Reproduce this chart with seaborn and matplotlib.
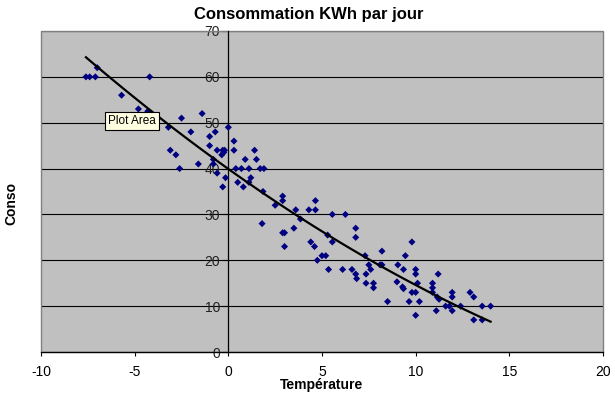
import numpy as np
import pandas as pd
import matplotlib
matplotlib.use("Agg")
import matplotlib.pyplot as plt
import seaborn as sns
from matplotlib.patches import Rectangle

# ---- data ----
temperature = [
    -7.6, -7.4, -7.1, -7.0, -4.2, -5.7, -4.8, -4.3, -3.2, -2.5, -3.1, -2.8, -2.6,
    -1.4, -2.0, -1.6, -1.0, -0.7, -1.0, -0.6, -0.3, -0.2, -0.35, -0.25, 0.0, -0.8, -0.8,
    -0.6, -0.3, -0.15,
    0.3, 0.3, 0.4, 0.7, 0.5, 0.8, 0.9, 1.1, 1.2, 1.1, 1.4, 1.5, 1.7, 1.9, 1.85, 1.8, 2.5,
    2.9, 2.9, 3.6, 3.85, 4.3, 4.65, 4.65, 5.55, 6.25, 2.9, 3.0, 3.0, 3.5, 4.4, 4.6, 4.75,
    5.0, 5.2, 5.3, 5.55, 5.35, 6.1, 6.6, 6.8, 6.8, 6.8, 6.85, 7.3, 7.5, 7.6, 7.35, 7.35,
    7.75, 7.75,
    8.2, 8.1, 8.2, 8.5, 9.05, 9.35, 9.45, 9.8, 9.0, 9.3, 9.35, 9.65, 10.0, 10.0, 10.1,
    9.8, 10.0, 10.0, 10.2, 11.2, 10.9, 10.9, 10.9, 11.15, 11.25, 11.1, 11.6, 11.8, 11.95,
    11.95, 11.95, 12.4, 12.9, 13.1, 13.1, 13.55, 14.0, 13.55,
]
conso = [
    60, 60, 60, 62, 60, 56, 53, 52.5, 49, 51, 44, 43, 40,
    52, 48, 41, 47, 48, 45, 44, 44, 44, 43, 43.5, 49, 42, 41,
    39, 36, 38,
    46, 44, 40, 40, 37, 36, 42, 40, 38, 37, 44, 42, 40, 40, 35, 28, 32,
    34, 33, 31, 29, 31, 33, 31, 30, 30, 26, 26, 23, 27, 24, 23, 20,
    21, 21, 25.5, 24, 18, 18, 18, 27, 25, 17, 16, 21, 19, 18, 17, 15,
    15, 14,
    22, 19, 19, 11, 19, 18, 21, 24, 15.3, 14.2, 13.8, 11, 18, 17, 15,
    13, 13, 8, 11, 17, 15, 14, 13, 12, 11.5, 9, 10, 10, 13,
    12, 9, 10, 13, 12, 7, 10, 10, 7,
]
x_ticks = [-10, -5, 0, 5, 10, 15, 20]
y_ticks = [0, 10, 20, 30, 40, 50, 60, 70]
title = "Consommation KWh par jour"
x_label = "Température"
y_label = "Conso"
tooltip = "Plot Area"

df = pd.DataFrame({x_label: temperature, y_label: conso})

plt.rcParams["font.family"] = ["Liberation Sans", "DejaVu Sans"]

W, H = 615, 398
fig = plt.figure(figsize=(W / 100, H / 100), dpi=100)
fig.patch.set_facecolor("white")
L, R, T, B = 41, 603, 31, 352
ax = fig.add_axes([L / W, 1 - B / H, (R - L) / W, (B - T) / H])
ax.set_facecolor("#C0C0C0")

sns.scatterplot(data=df, x=x_label, y=y_label, marker="D", s=13,
                color="#000080", edgecolor="none", linewidth=0, ax=ax, zorder=3)
sns.regplot(data=df, x=x_label, y=y_label, order=2, ci=None, scatter=False,
            ax=ax, line_kws=dict(color="black", lw=1.6, zorder=4))

ax.set_xlim(x_ticks[0], x_ticks[-1])
ax.set_ylim(y_ticks[0], y_ticks[-1])
ax.set_xticks(x_ticks)
ax.set_yticks(y_ticks)
ax.set_xticklabels([str(v) for v in x_ticks])
ax.set_yticklabels([str(v) for v in y_ticks])

ax.yaxis.grid(True, color="black", lw=0.8)
ax.xaxis.grid(False)
ax.set_axisbelow(True)

ax.spines["left"].set_position(("data", 0))
ax.spines["left"].set_color("black")
ax.spines["left"].set_linewidth(0.9)
ax.spines["bottom"].set_color("black")
ax.spines["bottom"].set_linewidth(0.9)
ax.spines["top"].set_visible(False)
ax.spines["right"].set_visible(False)
ax.add_patch(Rectangle((0, 0), 1, 1, transform=ax.transAxes, fill=False,
                       edgecolor="#808080", lw=1.0, zorder=2.5, clip_on=False))

ax.tick_params(axis="x", direction="out", length=3, width=0.8, pad=6,
               labelsize=10, colors="black")
ax.tick_params(axis="y", direction="out", length=4, width=0.8, pad=2,
               labelsize=10, colors="black")
for lbl in ax.get_yticklabels():
    lbl.set_color("#222222")

ax.set_xlabel(x_label, fontsize=10, fontweight="bold")
ax.xaxis.set_label_coords(0.5, (B - 385) / (B - T))
ax.xaxis.label.set_va("center")
ax.set_ylabel(y_label, fontsize=10, fontweight="bold")
ax.yaxis.set_label_coords((11 - L) / (R - L), (B - 203) / (B - T))
ax.yaxis.label.set_va("center")

fig.text(0.502, 1 - 15 / H, title, ha="center", va="center",
         fontsize=12, fontweight="bold")

fig.text(108 / W, 1 - 121 / H, tooltip, ha="left", va="center", fontsize=8.5,
         bbox=dict(boxstyle="square,pad=0.25", fc="#FFFFE1", ec="black", lw=0.8),
         zorder=10)

fig.savefig("out.png", dpi=100)
